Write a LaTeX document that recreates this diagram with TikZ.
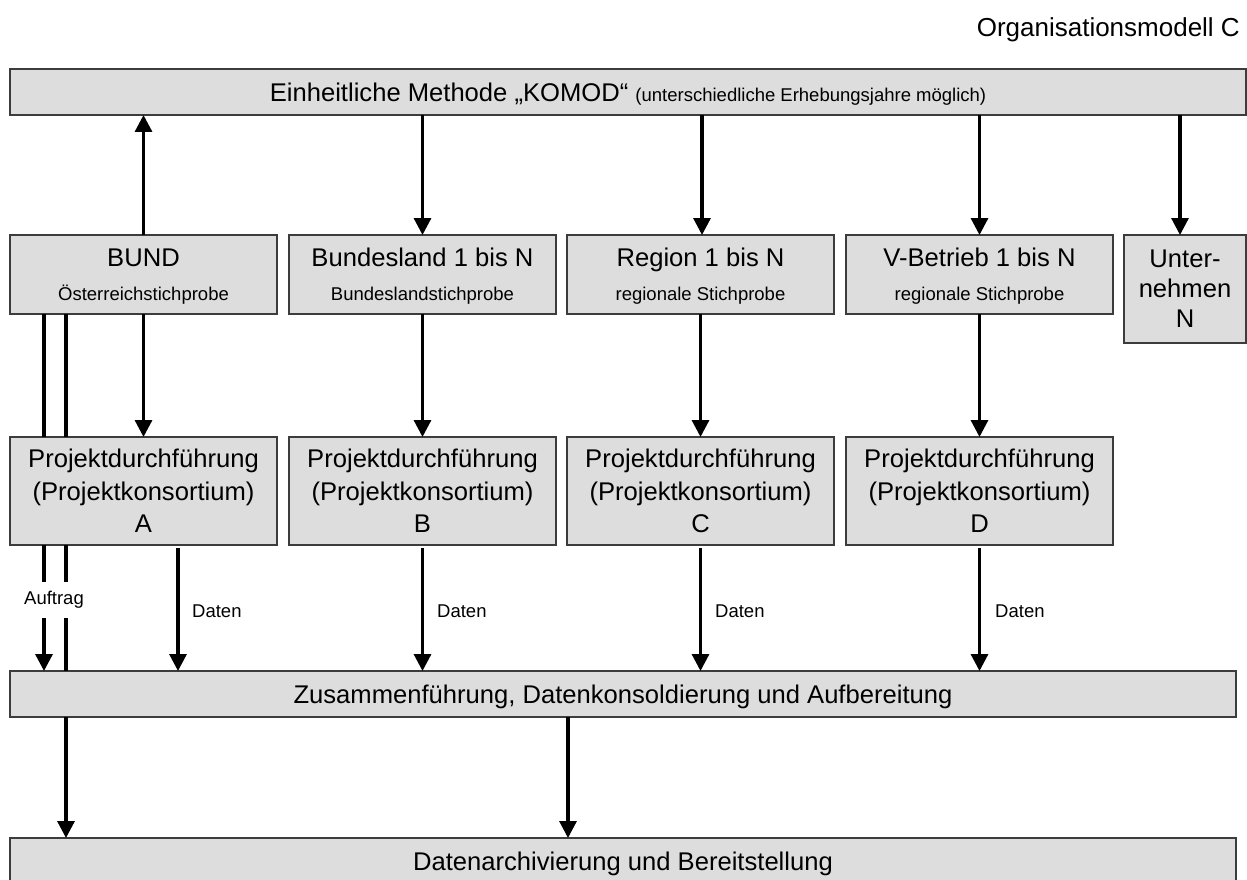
\documentclass[tikz,border=0pt]{standalone}
\usepackage{fontspec}
\setmainfont{Liberation Sans}
\usetikzlibrary{arrows.meta}
\definecolor{boxfill}{RGB}{221,221,221}
\definecolor{boxline}{RGB}{60,60,60}
\newcommand{\bigf}{\fontsize{25.6}{32.5}\selectfont}
\newcommand{\smallf}{\fontsize{18.5}{22}\selectfont}
\begin{document}
\begin{tikzpicture}[x=1pt,y=-1pt,
  box/.style={draw=boxline, line width=1.3pt, fill=boxfill, inner sep=0pt, outer sep=0pt, align=center, font=\bigf},
  bar/.style={box, minimum height=46pt, text depth=0pt},
  topbox/.style={box, minimum width=267pt, minimum height=79pt},
  projbox/.style={box, minimum width=267pt, minimum height=108pt},
  arr/.style={line width=3.2pt, -{Triangle[width=17pt,length=17pt]}},
  plainline/.style={line width=3.2pt},
  lbl/.style={font=\smallf, inner sep=0pt}
]
\useasboundingbox (0,0) rectangle (1247,880);
\fill[white] (0,0) rectangle (1247,880);
\clip (0,0) rectangle (1247,880);

% x positions of connectors
\coordinate (xa1) at (44,0);
\coordinate (xa2) at (66,0);
\coordinate (xdA) at (178,0);
\coordinate (xr) at (702,0);
\coordinate (xu) at (1180,0);
\coordinate (xm) at (568,0);

\node[anchor=base east, inner sep=0pt, font=\fontsize{26}{30}\selectfont] (title) at (1240,37) {Organisationsmodell C};

\node[bar, minimum width=1236pt] (top) at (628,92)
  {Einheitliche Methode „KOMOD“ {\smallf (unterschiedliche Erhebungsjahre möglich)}};

\node[topbox] (bund) at (143.5,274.5) {BUND\\[1.5pt]{\smallf\smash{Österreichstichprobe}}};
\node[topbox] (bl) at (422.5,274.5) {Bundesland 1 bis N\\[1.5pt]{\smallf\smash{Bundeslandstichprobe}}};
\node[topbox] (reg) at (700.5,274.5) {Region 1 bis N\\[1.5pt]{\smallf\smash{regionale Stichprobe}}};
\node[topbox] (vb) at (979.5,274.5) {V-Betrieb 1 bis N\\[1.5pt]{\smallf\smash{regionale Stichprobe}}};
\node[box, minimum width=122pt, minimum height=108pt, font=\fontsize{25.6}{30}\selectfont] (un) at (1185,289) {Unter-\\nehmen\\N};

\node[projbox] (pa) at (143.5,491) {Projektdurchführung\\(Projektkonsortium)\\A};
\node[projbox] (pb) at (422.5,491) {Projektdurchführung\\(Projektkonsortium)\\B};
\node[projbox] (pc) at (700.5,491) {Projektdurchführung\\(Projektkonsortium)\\C};
\node[projbox] (pd) at (979.5,491) {Projektdurchführung\\(Projektkonsortium)\\D};

\node[bar, minimum width=1226pt] (zus) at (623,694) {Zusammenführung, Datenkonsoldierung und Aufbereitung};
\node[bar, minimum width=1226pt] (da) at (623,861) {Datenarchivierung und Bereitstellung};

% labels
\node[lbl, fill=white, inner xsep=1pt, minimum height=36pt] (auf) at (54,600) {Auftrag};
\node[lbl, anchor=base west] (dA) at (192,617) {Daten};
\node[lbl, anchor=base west] (dB) at (437,617) {Daten};
\node[lbl, anchor=base west] (dC) at (715,617) {Daten};
\node[lbl, anchor=base west] (dD) at (995,617) {Daten};

% top bar connections
\draw[arr] (bund.north) -- (bund.north |- top.south);
\draw[arr] (top.south -| bl.north) -- (bl.north);
\draw[arr] (top.south -| xr) -- (reg.north -| xr);
\draw[arr] (top.south -| vb.north) -- (vb.north);
\draw[arr] (top.south -| xu) -- (un.north -| xu);

% sample boxes to project boxes
\draw[arr] (bund.south) -- (pa.north);
\draw[arr] (bl.south) -- (pb.north);
\draw[arr] (reg.south) -- (pc.north);
\draw[arr] (vb.south) -- (pd.north);

% Auftrag lines
\draw[plainline] (bund.south -| xa1) -- (pa.north -| xa1);
\draw[plainline] (pa.south -| xa1) -- (auf.north -| xa1);
\draw[arr] (auf.south -| xa1) -- (zus.north -| xa1);
\draw[plainline] (bund.south -| xa2) -- (pa.north -| xa2);
\draw[plainline] (pa.south -| xa2) -- (auf.north -| xa2);
\draw[plainline] (auf.south -| xa2) -- (zus.north -| xa2);

% Daten arrows
\draw[arr, shorten <=3pt] (pa.south -| xdA) -- (zus.north -| xdA);
\draw[arr, shorten <=3pt] (pb.south) -- (zus.north -| pb.south);
\draw[arr, shorten <=3pt] (pc.south) -- (zus.north -| pc.south);
\draw[arr, shorten <=3pt] (pd.south) -- (zus.north -| pd.south);

% to archive
\draw[arr] (zus.south -| xa2) -- (da.north -| xa2);
\draw[arr] (zus.south -| xm) -- (da.north -| xm);
\end{tikzpicture}
\end{document}
